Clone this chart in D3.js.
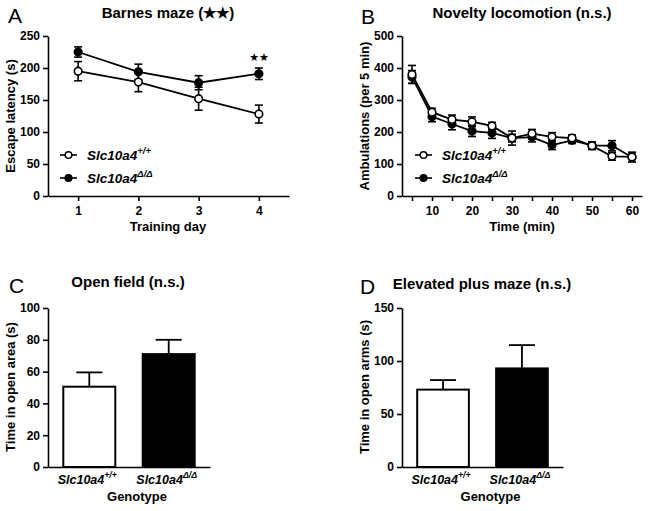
<!DOCTYPE html>
<html><head><meta charset="utf-8">
<script src="https://cdn.jsdelivr.net/npm/d3@7"></script>
<style>
body{margin:0;background:#fff;}
svg{font-family:"Liberation Sans",Arial,sans-serif;}
.axis path,.axis line{stroke:#000;stroke-width:1.6px;}
.axis text{font-size:12px;font-weight:bold;fill:#000;font-family:"Liberation Sans",Arial,sans-serif;}
</style></head>
<body>
<svg id="c" width="649" height="511"></svg>
<script>
// ---------- DATA ----------
const groups = ["Slc10a4+/+", "Slc10a4Δ/Δ"];
// Panel A: Barnes maze
const days = [1, 2, 3, 4];
const barnesWT = [195, 178, 152, 128];
const barnesWTerr = [15, 15, 18, 14];
const barnesKO = [225, 194, 177, 191];
const barnesKOerr = [8, 12, 11, 9];
const barnesTicks = [0, 50, 100, 150, 200, 250];
// Panel B: Novelty locomotion
const times = [5, 10, 15, 20, 25, 30, 35, 40, 45, 50, 55, 60];
const locoWT = [380, 262, 239, 232, 219, 181, 195, 185, 181, 157, 124, 122];
const locoWTerr = [28, 12, 14, 15, 11, 22, 13, 13, 10, 12, 12, 15];
const locoKO = [372, 248, 225, 203, 197, 181, 184, 159, 174, 158, 157, 121];
const locoKOerr = [20, 16, 18, 17, 17, 12, 15, 14, 10, 10, 16, 14];
const locoTicks = [0, 100, 200, 300, 400, 500];
const locoXLabels = [10, 20, 30, 40, 50, 60];
// Panel C: Open field
const openField = [50.5, 71];
const openFieldErr = [9, 9];
const openTicks = [0, 20, 40, 60, 80, 100];
// Panel D: Elevated plus maze
const plusMaze = [73, 93];
const plusMazeErr = [9, 22];
const plusTicks = [0, 50, 100, 150];

// ---------- DRAW ----------
const svg = d3.select("#c");

function txt(x, y, s, size, weight, anchor, rot) {
  const t = svg.append("text").attr("x", x).attr("y", y).text(s)
    .attr("font-size", size).attr("font-weight", weight || "bold")
    .attr("text-anchor", anchor || "middle").attr("fill", "#000");
  if (rot) t.attr("transform", `rotate(-90,${x},${y})`);
  return t;
}
function geno(g, x, y, label, size, anchor) {
  const base = label.slice(0, 7), sup = label.slice(7);
  const t = g.append("text").attr("x", x).attr("y", y)
    .attr("font-size", size).attr("font-weight", "bold").attr("font-style", "italic")
    .attr("text-anchor", anchor || "start").attr("fill", "#000");
  t.append("tspan").text(base);
  t.append("tspan").attr("dy", -6).attr("font-size", size * 0.7).text(sup);
  return t;
}
function yAxis(y, left, ticks) {
  svg.append("g").attr("class", "axis").attr("transform", `translate(${left},0)`)
    .call(d3.axisLeft(y).tickValues(ticks).tickSize(5).tickSizeOuter(0).tickPadding(3));
}

function lineChart(cfg) {
  const x = d3.scaleLinear().domain(cfg.xdom).range([cfg.l, cfg.r]);
  const y = d3.scaleLinear().domain(cfg.ydom).range([cfg.b, cfg.t]);
  yAxis(y, cfg.l, cfg.yticks);
  svg.append("g").attr("class", "axis").attr("transform", `translate(0,${cfg.b})`)
    .call(d3.axisBottom(x).tickValues(cfg.xticks).tickSize(5).tickSizeOuter(0).tickPadding(5)
      .tickFormat(d => cfg.xlabels.includes(d) ? d : ""));
  const series = [
    {v: cfg.ko, e: cfg.koErr, fill: "#000"},
    {v: cfg.wt, e: cfg.wtErr, fill: "#fff"}
  ];
  const line = d3.line().x((d, i) => x(cfg.xs[i])).y(d => y(d));
  series.forEach(s => {
    const g = svg.append("g");
    g.append("path").datum(s.v).attr("d", line).attr("fill", "none")
      .attr("stroke", "#000").attr("stroke-width", 1.8);
    s.v.forEach((v, i) => {
      const cx = x(cfg.xs[i]), y1 = y(v + s.e[i]), y2 = y(v - s.e[i]);
      g.append("line").attr("x1", cx).attr("x2", cx).attr("y1", y1).attr("y2", y2)
        .attr("stroke", "#000").attr("stroke-width", 1.6);
      [y1, y2].forEach(yy => g.append("line").attr("x1", cx - 4).attr("x2", cx + 4)
        .attr("y1", yy).attr("y2", yy).attr("stroke", "#000").attr("stroke-width", 1.6));
    });
    g.selectAll("circle").data(s.v).join("circle")
      .attr("cx", (d, i) => x(cfg.xs[i])).attr("cy", d => y(d)).attr("r", 3.8)
      .attr("fill", s.fill).attr("stroke", "#000").attr("stroke-width", 1.6);
  });
  const lg = svg.append("g");
  [[cfg.legY1, "#fff", groups[0]], [cfg.legY2, "#000", groups[1]]].forEach(([ly, f, lab]) => {
    lg.append("line").attr("x1", cfg.legX).attr("x2", cfg.legX + 17).attr("y1", ly).attr("y2", ly)
      .attr("stroke", "#000").attr("stroke-width", 1.6);
    lg.append("circle").attr("cx", cfg.legX + 8.5).attr("cy", ly).attr("r", 3.3)
      .attr("fill", f).attr("stroke", "#000").attr("stroke-width", 1.5);
    geno(lg, cfg.legX + 27, ly + 5, lab, 13.5);
  });
  return {x, y};
}

function barChart(cfg) {
  const x = d3.scaleBand().domain(groups).range([cfg.l, cfg.r]).paddingInner(0.32).paddingOuter(0.18);
  const y = d3.scaleLinear().domain(cfg.ydom).range([cfg.b, cfg.t]);
  const g = svg.append("g");
  cfg.vals.forEach((v, i) => {
    const cx = x(groups[i]) + x.bandwidth() / 2, yt = y(v + cfg.err[i]);
    g.append("line").attr("x1", cx).attr("x2", cx).attr("y1", y(v)).attr("y2", yt)
      .attr("stroke", "#000").attr("stroke-width", 1.8);
    g.append("line").attr("x1", cx - 13).attr("x2", cx + 13).attr("y1", yt).attr("y2", yt)
      .attr("stroke", "#000").attr("stroke-width", 1.8);
  });
  g.selectAll("rect").data(cfg.vals).join("rect")
    .attr("x", (d, i) => x(groups[i]) + 1).attr("width", x.bandwidth() - 2)
    .attr("y", d => y(d)).attr("height", d => y(0) - y(d))
    .attr("fill", (d, i) => i === 0 ? "#fff" : "#000").attr("stroke", "#000").attr("stroke-width", 2);
  yAxis(y, cfg.l, cfg.yticks);
  svg.append("g").attr("class", "axis").attr("transform", `translate(0,${cfg.b})`)
    .call(d3.axisBottom(x).tickSize(0).tickSizeOuter(0).tickFormat(""));
  groups.forEach(gname => geno(svg, x(gname) + x.bandwidth() / 2 - 2, cfg.b + 17, gname, 12.5, "middle"));
  txt((cfg.l + cfg.r) / 2 + 8, cfg.b + 34, "Genotype", 13);
}

// Panel A
lineChart({l: 48, r: 289, t: 36, b: 196, xdom: [0.5, 4.5], ydom: [0, 250], yticks: barnesTicks,
  xs: days, xticks: days, xlabels: days, wt: barnesWT, wtErr: barnesWTerr, ko: barnesKO, koErr: barnesKOerr,
  legX: 60, legY1: 155, legY2: 178});
txt(8, 23, "A", 21, "normal", "start");
txt(168, 18, "Barnes maze (★★)", 15);
txt(168, 231, "Training day", 13);
txt(15, 116, "Escape latency (s)", 13, "bold", "middle", true);
svg.append("text").attr("x", 259).attr("y", 61).attr("text-anchor", "middle")
  .attr("font-size", 11).attr("font-family", "DejaVu Sans").text("★★");

// Panel B
lineChart({l: 402, r: 642, t: 36, b: 196, xdom: [2.5, 62.5], ydom: [0, 500], yticks: locoTicks,
  xs: times, xticks: times, xlabels: locoXLabels, wt: locoWT, wtErr: locoWTerr, ko: locoKO, koErr: locoKOerr,
  legX: 415, legY1: 155, legY2: 178});
txt(361, 24, "B", 21, "normal", "start");
txt(522, 18, "Novelty locomotion (n.s.)", 15);
txt(522, 231, "Time (min)", 13);
txt(369, 116, "Ambulations (per 5 min)", 13, "bold", "middle", true);

// Panel C
barChart({l: 48, r: 210, t: 308, b: 467, ydom: [0, 100], yticks: openTicks, vals: openField, err: openFieldErr});
txt(9, 293, "C", 21, "normal", "start");
txt(128, 287, "Open field (n.s.)", 15);
txt(15, 387, "Time in open area (s)", 13, "bold", "middle", true);

// Panel D
barChart({l: 402, r: 563, t: 308, b: 467, ydom: [0, 150], yticks: plusTicks, vals: plusMaze, err: plusMazeErr});
txt(360, 294, "D", 21, "normal", "start");
txt(482, 289, "Elevated plus maze (n.s.)", 15);
txt(369, 387, "Time in open arms (s)", 13, "bold", "middle", true);
</script>
</body></html>
